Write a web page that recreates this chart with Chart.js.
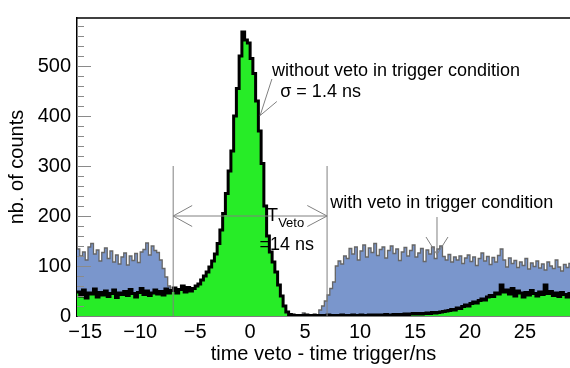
<!DOCTYPE html>
<html>
<head>
<meta charset="utf-8">
<script src="https://cdn.jsdelivr.net/npm/chart.js@4.4.1/dist/chart.umd.min.js"></script>
<style>
  html, body { margin: 0; padding: 0; background: #fff; }
  #wrap { width: 570px; height: 368px; position: relative; }
</style>
</head>
<body>
<div id="wrap"><canvas id="c"></canvas></div>
<script>
/* Timing histogram: veto time minus trigger time, 0.25 ns bins from -15.75 ns */
const BIN_START = -15.75;
const BIN_WIDTH = 0.25;
const X_MIN = -15.75, X_MAX = 29.1;
const Y_MAX = 596;
const X_TICKS = [-15, -10, -5, 0, 5, 10, 15, 20, 25];
const Y_TICKS = [0, 100, 200, 300, 400, 500];
const Y_MINOR_STEP = 20;

// with veto in trigger condition (blue)
const WITH_VETO = [
  134,120,128,112,138,145,124,132,110,127,136,115,130,108,122,104,118,126,102,120,
  111,125,107,128,133,146,122,140,131,127,112,95,78,60,48,
  0,0,0,0,0,0,0,0,0,0,0,0,0,0,0,0,0,0,0,0,0,0,0,0,0,0,0,0,0,0,0,0,0,0,0,0,0,0,0,0,
  0,0,0,0,0,0,0,
  6,0,0,0,4,0,12,20,30,
  42,55,68,100,110,104,120,115,135,124,138,112,130,142,118,136,127,145,121,133,
  138,116,131,140,125,134,111,128,137,120,131,142,118,126,135,109,132,124,138,115,
  134,140,119,112,123,108,118,112,120,105,116,122,109,118,101,115,126,110,119,103,
  117,108,121,134,112,98,116,105,111,97,108,101,115,94,106,99,110,96,104,92,
  108,100,95,112,98,90,103,97,105
];

// without veto in trigger condition (green)
const WITHOUT_VETO = [
  48,40,52,36,46,44,54,38,47,42,50,39,45,52,37,46,43,49,41,53,
  45,38,47,55,43,50,41,46,52,44,49,42,54,46,51,
  56,46,53,60,48,57,50,
  55,60,64,72,80,88,98,110,124,145,172,205,245,290,330,400,455,520,568,552,
  546,515,485,430,370,305,220,160,128,108,88,62,40,20,8,3,
  2,1,1,0,1,2,0,1,1,0,1,1,0,2,1,1,0,1,2,1,1,0,2,1,1,2,1,1,2,1,2,2,
  1,2,3,2,2,3,2,3,3,4,3,4,5,4,5,4,5,6,5,7,6,7,8,9,10,
  11,13,12,16,15,19,22,20,25,28,26,31,34,32,38,41,39,46,44,62,
  48,52,44,55,40,50,46,38,47,42,51,45,40,48,43,62,45,49,41,46,
  39,47,43,38,45
];

const FONT = '"Liberation Sans", Arial, Helvetica, sans-serif';

// histogram bins -> points at bin centres, plus the two outer edges
function histPoints(vals) {
  const pts = [{ x: BIN_START, y: vals[0] }];
  vals.forEach((v, i) => pts.push({ x: BIN_START + (i + 0.5) * BIN_WIDTH, y: v }));
  pts.push({ x: BIN_START + vals.length * BIN_WIDTH, y: vals[vals.length - 1] });
  return pts;
}

/* Frame, inward y ticks and the drawn-in annotations */
const decorations = {
  id: 'decorations',
  afterDatasetsDraw(chart) {
    const { ctx, chartArea: a, scales: { x, y } } = chart;
    const px = v => x.getPixelForValue(v);
    const py = v => y.getPixelForValue(v);
    const line = (x1, y1, x2, y2) => {
      ctx.beginPath(); ctx.moveTo(px(x1), py(y1)); ctx.lineTo(px(x2), py(y2)); ctx.stroke();
    };
    ctx.save();

    // y ticks pointing into the plot
    ctx.strokeStyle = '#8a8a8a';
    ctx.lineWidth = 1;
    for (let v = Y_MINOR_STEP; v < Y_MAX; v += Y_MINOR_STEP) {
      const len = v % 100 === 0 ? 14 : 7;
      const yy = Math.round(py(v)) + 0.5;
      ctx.beginPath(); ctx.moveTo(a.left, yy); ctx.lineTo(a.left + len, yy); ctx.stroke();
    }

    // top edge of the frame
    ctx.strokeStyle = '#000';
    ctx.lineWidth = 1.5;
    ctx.beginPath(); ctx.moveTo(a.left, a.top); ctx.lineTo(a.right, a.top); ctx.stroke();

    // T_Veto window
    ctx.strokeStyle = '#808080';
    ctx.lineWidth = 1;
    line(-7, 0, -7, 300);
    line(7, 0, 7, 300);
    line(-7, 200, 7, 200);
    line(-5.27, 221, -7, 200); line(-7, 200, -5.27, 179);
    line(5.2, 221, 7, 200);    line(7, 200, 5.2, 179);

    // arrow to the peak
    line(1.98, 474, 0.91, 401);
    line(2.43, 429, 0.91, 401);

    // arrow to the vetoed histogram
    line(17.0, 198, 17.0, 123);
    line(16.0, 158, 17.0, 123);
    line(18.0, 158, 17.0, 123);

    ctx.fillStyle = '#000';
    ctx.textBaseline = 'alphabetic';
    ctx.textAlign = 'left';
    ctx.font = '18px ' + FONT;
    ctx.fillText('without veto in trigger condition', px(1.98), py(480));
    ctx.fillText('\u03c3 = 1.4 ns', px(2.74), py(438));
    ctx.fillText('with veto in trigger condition', px(7.28), py(216));
    ctx.fillText('T', px(1.53), py(191));
    ctx.fillText('=14 ns', px(0.85), py(133));
    ctx.font = '13px ' + FONT;
    ctx.fillText('Veto', px(2.55), py(179));

    ctx.restore();
  }
};

new Chart(document.getElementById('c'), {
  type: 'line',
  data: {
    datasets: [
      {
        label: 'with veto in trigger condition',
        data: histPoints(WITH_VETO),
        stepped: 'middle',
        borderColor: '#666',
        borderWidth: 1.3,
        backgroundColor: '#7a96cc',
        fill: 'origin',
        pointRadius: 0,
        order: 2
      },
      {
        label: 'without veto in trigger condition',
        data: histPoints(WITHOUT_VETO),
        stepped: 'middle',
        borderColor: '#000',
        borderWidth: 3,
        backgroundColor: '#27ec27',
        fill: 'origin',
        pointRadius: 0,
        order: 1
      }
    ]
  },
  options: {
    responsive: true,
    maintainAspectRatio: false,
    devicePixelRatio: 1,
    animation: false,
    layout: { padding: { top: 7, left: 0, right: 0, bottom: 0 } },
    plugins: { legend: { display: false }, tooltip: { enabled: false } },
    scales: {
      x: {
        type: 'linear', min: X_MIN, max: X_MAX,
        afterBuildTicks: s => { s.ticks = X_TICKS.map(v => ({ value: v })); },
        afterFit: s => { s.height = 52; },
        grid: { display: false, drawTicks: false },
        border: { display: true, color: '#000', width: 1.5 },
        ticks: {
          color: '#000', font: { size: 20, family: FONT }, padding: 4,
          autoSkip: false, maxRotation: 0,
          callback: v => v < 0 ? '\u2212' + Math.abs(v) : String(v)
        },
        title: {
          display: true, text: 'time veto - time trigger/ns', color: '#000',
          font: { size: 20, family: FONT }, padding: { top: 0, bottom: 2 }
        }
      },
      y: {
        type: 'linear', min: 0, max: Y_MAX,
        afterBuildTicks: s => { s.ticks = Y_TICKS.map(v => ({ value: v })); },
        afterFit: s => { s.width = 77; },
        grid: { display: false, drawTicks: false },
        border: { display: true, color: '#000', width: 1.5 },
        ticks: { color: '#000', font: { size: 20, family: FONT }, padding: 6 },
        title: {
          display: true, text: 'nb. of counts', color: '#000',
          font: { size: 20, family: FONT }, padding: { top: 5, bottom: 0 }
        }
      }
    }
  },
  plugins: [decorations]
});
</script>
</body>
</html>
